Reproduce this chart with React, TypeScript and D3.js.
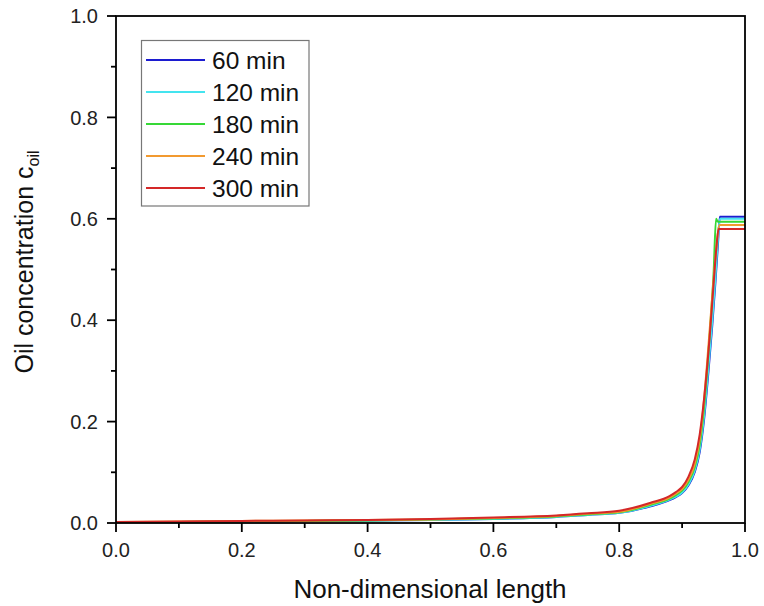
import React from "react";
import * as d3 from "d3";

const seriesNames = ["60 min", "120 min", "180 min", "240 min", "300 min"];
const seriesColors = ["#1c1cd0", "#44e4ef", "#36d836", "#f29a30", "#d42828"];

const x60 = [0, 0.1, 0.2, 0.3, 0.4, 0.5, 0.6, 0.7, 0.75, 0.8, 0.85, 0.88, 0.89, 0.9, 0.91, 0.92, 0.928, 0.935, 0.942, 0.948, 0.953, 0.957, 0.96, 1.0];
const y60 = [0.001, 0.002, 0.003, 0.004, 0.005, 0.006, 0.008, 0.012, 0.016, 0.02, 0.033, 0.045, 0.051, 0.059, 0.074, 0.1, 0.14, 0.205, 0.3, 0.39, 0.475, 0.55, 0.604, 0.604];
const x120 = [0, 0.1, 0.2, 0.3, 0.4, 0.5, 0.6, 0.7, 0.75, 0.8, 0.85, 0.88, 0.89, 0.9, 0.91, 0.92, 0.928, 0.935, 0.942, 0.948, 0.953, 0.957, 0.96, 1.0];
const y120 = [0.001, 0.002, 0.003, 0.004, 0.005, 0.006, 0.008, 0.012, 0.016, 0.02, 0.034, 0.046, 0.052, 0.06, 0.076, 0.103, 0.145, 0.212, 0.31, 0.4, 0.485, 0.56, 0.6, 0.6];
const x180 = [0, 0.1, 0.2, 0.3, 0.4, 0.5, 0.6, 0.7, 0.75, 0.8, 0.85, 0.88, 0.89, 0.9, 0.91, 0.92, 0.928, 0.935, 0.941, 0.946, 0.95, 0.954, 0.957, 1.0];
const y180 = [0.001, 0.002, 0.003, 0.004, 0.005, 0.007, 0.009, 0.013, 0.017, 0.021, 0.036, 0.048, 0.055, 0.064, 0.081, 0.11, 0.155, 0.23, 0.32, 0.41, 0.49, 0.6, 0.594, 0.594];
const x240 = [0, 0.1, 0.2, 0.3, 0.4, 0.5, 0.6, 0.7, 0.75, 0.8, 0.85, 0.88, 0.89, 0.9, 0.91, 0.92, 0.928, 0.935, 0.94, 0.945, 0.95, 0.955, 0.959, 1.0];
const y240 = [0.002, 0.003, 0.004, 0.005, 0.006, 0.007, 0.01, 0.014, 0.018, 0.022, 0.038, 0.05, 0.058, 0.067, 0.085, 0.116, 0.165, 0.245, 0.32, 0.4, 0.48, 0.55, 0.588, 0.588];
const x300 = [0, 0.1, 0.2, 0.3, 0.4, 0.5, 0.6, 0.7, 0.75, 0.8, 0.85, 0.88, 0.89, 0.9, 0.91, 0.92, 0.928, 0.937, 0.944, 0.95, 0.955, 0.958, 1.0];
const y300 = [0.002, 0.003, 0.004, 0.005, 0.006, 0.008, 0.011, 0.015, 0.019, 0.024, 0.04, 0.053, 0.061, 0.071, 0.091, 0.125, 0.175, 0.27, 0.37, 0.47, 0.55, 0.58, 0.58];

const seriesX = [x60, x120, x180, x240, x300];
const seriesY = [y60, y120, y180, y240, y300];

const majorTicks = [0, 0.2, 0.4, 0.6, 0.8, 1.0];
const minorTicks = [0.1, 0.3, 0.5, 0.7, 0.9];

const xTitle = "Non-dimensional length";
const yTitle = "Oil concentration c";
const ySub = "oil";

export default function App() {
  const W = 764, H = 606;
  const left = 116, right = 745, top = 16, bottom = 523;
  const x = d3.scaleLinear().domain([0, 1]).range([left, right]);
  const y = d3.scaleLinear().domain([0, 1]).range([bottom, top]);
  const line = d3.line<[number, number]>().x(d => x(d[0])).y(d => y(d[1])).curve(d3.curveMonotoneX);
  const font = "'Liberation Sans', Arial, sans-serif";

  return (
    <svg width={W} height={H} style={{ position: "absolute", left: 0, top: 0, background: "#fff" }} fontFamily={font}>
      <rect x={0} y={0} width={W} height={H} fill="#fff" />
      <defs>
        <clipPath id="plot">
          <rect x={left} y={top} width={right - left} height={bottom - top} />
        </clipPath>
      </defs>
      <g clipPath="url(#plot)">
        {seriesNames.map((n, i) => (
          <path key={n}
            d={line(seriesX[i].map((v, j) => [v, seriesY[i][j]] as [number, number])) || ""}
            fill="none" stroke={seriesColors[i]} strokeWidth={2} strokeLinejoin="round" />
        ))}
      </g>
      <rect x={left} y={top} width={right - left} height={bottom - top} fill="none" stroke="#000" strokeWidth={1.8} />
      {majorTicks.map(t => (
        <g key={"mx" + t}>
          <line x1={x(t)} x2={x(t)} y1={bottom} y2={bottom + 9} stroke="#000" strokeWidth={1.8} />
          <text x={x(t)} y={557} textAnchor="middle" fontSize={20} fill="#222">{t.toFixed(1)}</text>
          <line x1={left} x2={left - 9} y1={y(t)} y2={y(t)} stroke="#000" strokeWidth={1.8} />
          <text x={98} y={y(t)} dy="0.36em" textAnchor="end" fontSize={20} fill="#222">{t.toFixed(1)}</text>
        </g>
      ))}
      {minorTicks.map(t => (
        <g key={"mn" + t}>
          <line x1={x(t)} x2={x(t)} y1={bottom} y2={bottom + 5} stroke="#000" strokeWidth={1.8} />
          <line x1={left} x2={left - 5} y1={y(t)} y2={y(t)} stroke="#000" strokeWidth={1.8} />
        </g>
      ))}
      <text x={430} y={598} textAnchor="middle" fontSize={26} fill="#111">{xTitle}</text>
      <text transform={`translate(33, 262) rotate(-90)`} textAnchor="middle" fontSize={25} fill="#111">
        {yTitle}<tspan fontSize={16} dy={6}>{ySub}</tspan>
      </text>
      <rect x={141.5} y={40.5} width={167.5} height={165.5} fill="#fff" stroke="#777" strokeWidth={1.2} />
      {seriesNames.map((n, i) => {
        const ry = 60 + i * 32;
        return (
          <g key={"lg" + n}>
            <line x1={146} x2={205} y1={ry} y2={ry} stroke={seriesColors[i]} strokeWidth={2} />
            <text x={212} y={ry} dy="0.36em" fontSize={24.5} fill="#111">{n}</text>
          </g>
        );
      })}
    </svg>
  );
}
